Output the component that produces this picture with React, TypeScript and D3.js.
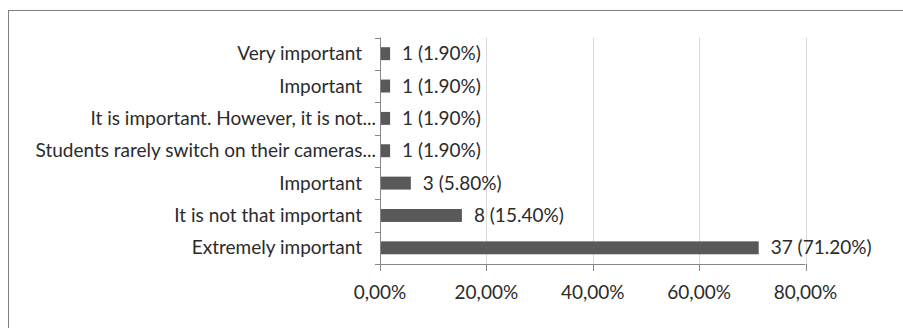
import React, { useEffect, useRef } from "react";
import * as d3 from "d3";

const categories = [
  "Very important",
  "Important",
  "It is important. However, it is not...",
  "Students rarely switch on their cameras...",
  "Important",
  "It is not that important",
  "Extremely important",
];
const counts = [1, 1, 1, 1, 3, 8, 37];
const percents = [1.9, 1.9, 1.9, 1.9, 5.8, 15.4, 71.2];
const xTicks = [0, 20, 40, 60, 80];

const FONT = "Lato, 'Open Sans', sans-serif";
const FS = 19;

export default function App() {
  const ref = useRef<SVGSVGElement>(null);

  useEffect(() => {
    const svg = d3.select(ref.current);
    svg.selectAll("*").remove();

    const width = 903;
    const height = 328;
    const margin = { top: 37.5, left: 380, right: 97.5, bottom: 64 };

    // outer frame (runs off the right/bottom edge)
    svg.append("rect")
      .attr("x", 8.5)
      .attr("y", 10.5)
      .attr("width", width)
      .attr("height", height)
      .attr("fill", "#fff")
      .attr("stroke", "#7f7f7f")
      .attr("stroke-width", 1);

    const x = d3.scaleLinear()
      .domain([0, 80])
      .range([margin.left, width - margin.right]);

    const idx = categories.map((_, i) => i);
    const y = d3.scaleBand<number>()
      .domain(idx)
      .range([margin.top, height - margin.bottom])
      .paddingInner(0.6)
      .paddingOuter(0.3);

    const y0 = margin.top;
    const y1 = height - margin.bottom;

    // gridlines
    svg.append("g")
      .selectAll("line")
      .data(xTicks.slice(1))
      .join("line")
      .attr("x1", d => Math.round(x(d)) + 0.5)
      .attr("x2", d => Math.round(x(d)) + 0.5)
      .attr("y1", y0)
      .attr("y2", y1)
      .attr("stroke", "#d9d9d9");

    // bars
    svg.append("g")
      .selectAll("rect")
      .data(idx)
      .join("rect")
      .attr("x", x(0))
      .attr("y", i => y(i)!)
      .attr("width", i => x(percents[i]) - x(0))
      .attr("height", y.bandwidth())
      .attr("fill", "#595959");

    // value labels
    svg.append("g")
      .selectAll("text")
      .data(idx)
      .join("text")
      .attr("x", i => x(percents[i]) + 12)
      .attr("y", i => y(i)! + y.bandwidth() / 2)
      .attr("dy", "0.35em")
      .attr("font-family", FONT)
      .attr("font-size", FS)
      .attr("fill", "#2b2b2b")
      .text(i => `${counts[i]} (${percents[i].toFixed(2)}%)`);

    // y axis line and ticks at band boundaries
    const axisColor = "#868686";
    svg.append("line")
      .attr("x1", x(0) + 0.5)
      .attr("x2", x(0) + 0.5)
      .attr("y1", y0)
      .attr("y2", y1)
      .attr("stroke", axisColor);
    const step = y.step();
    svg.append("g")
      .selectAll("line")
      .data(d3.range(categories.length + 1))
      .join("line")
      .attr("x1", x(0) - 5)
      .attr("x2", x(0))
      .attr("y1", i => Math.round(y0 + i * step) + 0.5)
      .attr("y2", i => Math.round(y0 + i * step) + 0.5)
      .attr("stroke", axisColor);

    // category labels
    svg.append("g")
      .selectAll("text")
      .data(idx)
      .join("text")
      .attr("x", i => categories[i].endsWith("...") ? x(0) - 4 : x(0) - 18)
      .attr("y", i => y(i)! + y.bandwidth() / 2)
      .attr("dy", "0.35em")
      .attr("text-anchor", "end")
      .attr("font-family", FONT)
      .attr("font-size", FS)
      .attr("fill", "#2b2b2b")
      .text(i => categories[i]);

    // x axis
    svg.append("line")
      .attr("x1", x(0))
      .attr("x2", x(80))
      .attr("y1", y1 + 0.5)
      .attr("y2", y1 + 0.5)
      .attr("stroke", axisColor);
    svg.append("g")
      .selectAll("line")
      .data(xTicks)
      .join("line")
      .attr("x1", d => Math.round(x(d)) + 0.5)
      .attr("x2", d => Math.round(x(d)) + 0.5)
      .attr("y1", y1)
      .attr("y2", y1 + 7)
      .attr("stroke", axisColor);
    svg.append("g")
      .selectAll("text")
      .data(xTicks)
      .join("text")
      .attr("x", d => x(d))
      .attr("y", y1 + 28)
      .attr("dy", "0.35em")
      .attr("text-anchor", "middle")
      .attr("font-family", FONT)
      .attr("font-size", FS)
      .attr("fill", "#2b2b2b")
      .text(d => d.toFixed(2).replace(".", ",") + "%");
  }, []);

  return (
    <svg
      ref={ref}
      width={903}
      height={328}
      style={{ position: "absolute", left: 0, top: 0, background: "#fff" }}
    />
  );
}
